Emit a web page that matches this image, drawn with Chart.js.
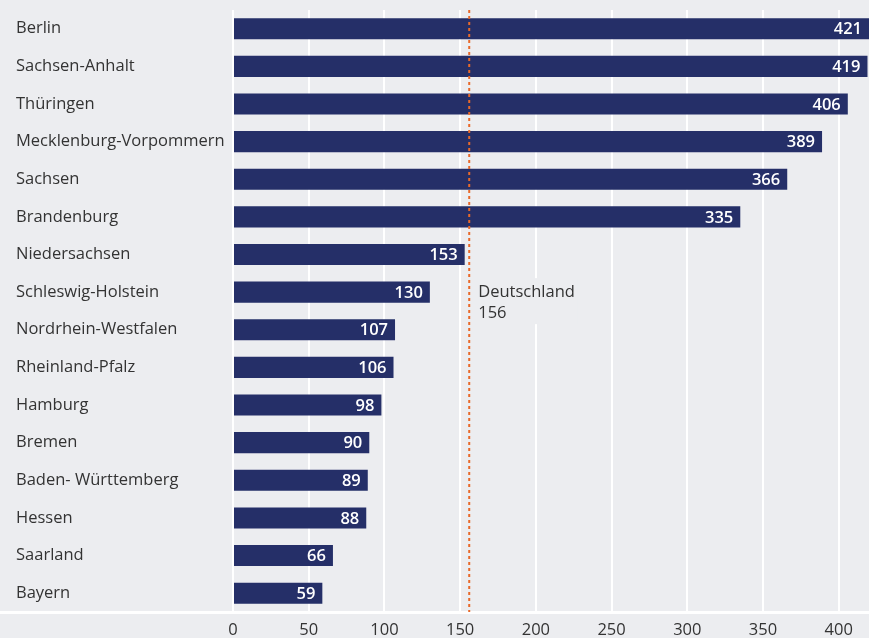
<!DOCTYPE html>
<html><head><meta charset="utf-8">
<script src="https://cdn.jsdelivr.net/npm/chart.js@4/dist/chart.umd.min.js"></script>
<style>html,body{margin:0;padding:0;background:#ecedf0;}#w{width:869px;height:638px;}</style>
</head><body><div id="w"><canvas id="c"></canvas></div>
<script>
const categories = ["Berlin","Sachsen-Anhalt","Thüringen","Mecklenburg-Vorpommern","Sachsen","Brandenburg","Niedersachsen","Schleswig-Holstein","Nordrhein-Westfalen","Rheinland-Pfalz","Hamburg","Bremen","Baden- Württemberg","Hessen","Saarland","Bayern"];
const values = [421,419,406,389,366,335,153,130,107,106,98,90,89,88,66,59];
const referenceLabel = ["Deutschland","156"];
const referenceValue = 156;
const xTicks = [0,50,100,150,200,250,300,350,400];

const FONT = "'Open Sans', 'Noto Sans', sans-serif";
const BG = '#ecedf0';

const bgPlugin = {
  id:'bg',
  beforeDraw(chart){
    const ctx = chart.ctx;
    ctx.save(); ctx.fillStyle = BG; ctx.fillRect(0,0,chart.width,chart.height); ctx.restore();
  },
  afterDatasetsDraw(chart){
    const ctx = chart.ctx, x = chart.scales.x, y = chart.scales.y, ca = chart.chartArea;
    ctx.save();
    ctx.strokeStyle = '#ffffff'; ctx.lineWidth = 3;
    ctx.beginPath(); ctx.moveTo(0, ca.bottom+0.5); ctx.lineTo(chart.width, ca.bottom+0.5); ctx.stroke();
    const rx = x.getPixelForValue(referenceValue);
    ctx.strokeStyle = '#e8692a'; ctx.lineWidth = 2; ctx.setLineDash([3,3]);
    ctx.beginPath(); ctx.moveTo(rx, ca.top); ctx.lineTo(rx, ca.bottom); ctx.stroke();
    ctx.setLineDash([]);
    ctx.font = '16.5px ' + FONT;
    const yc = (y.getPixelForValue(7));
    const w = Math.max(...referenceLabel.map(t=>ctx.measureText(t).width));
    ctx.fillStyle = BG;
    ctx.fillRect(rx+6, yc-14, w+6, 46);
    ctx.fillStyle = '#333333'; ctx.textBaseline = 'middle'; ctx.textAlign = 'left';
    ctx.fillText(referenceLabel[0], rx+9, yc);
    ctx.fillText(referenceLabel[1], rx+9, yc+21);
    const meta = chart.getDatasetMeta(0);
    ctx.font = '600 16.5px ' + FONT; ctx.fillStyle = '#ffffff'; ctx.textAlign = 'right';
    meta.data.forEach((bar,i)=>{
      const end = Math.min(bar.x, ca.right);
      ctx.fillText(String(values[i]), end-7, bar.y+1);
    });
    ctx.restore();
  }
};

new Chart(document.getElementById('c'), {
  type:'bar',
  data:{ labels: categories, datasets:[{ data: values, backgroundColor:'#252f68', barPercentage:0.56, categoryPercentage:1 }]},
  options:{
    indexAxis:'y', responsive:true, maintainAspectRatio:false, animation:false,
    layout:{ padding:{ left:16, top:7, right:0, bottom:0 } },
    plugins:{ legend:{display:false}, tooltip:{enabled:false} },
    scales:{
      x:{ min:0, max:420,
        afterBuildTicks(s){ s.ticks = xTicks.map(v=>({value:v})); },
        afterFit(s){ s.height = 26; },
        grid:{ color:'#ffffff', lineWidth:2, drawTicks:false },
        border:{ display:false },
        ticks:{ color:'#333333', font:{ family:FONT, size:16.5 }, padding:8, maxRotation:0 }
      },
      y:{
        afterFit(s){ s.width = 217; },
        grid:{ display:false, drawTicks:false }, border:{ display:false },
        ticks:{ crossAlign:'far', color:'#333333', font:{ family:FONT, size:16.5 }, padding:0 }
      }
    }
  },
  plugins:[bgPlugin]
});
</script></body></html>
